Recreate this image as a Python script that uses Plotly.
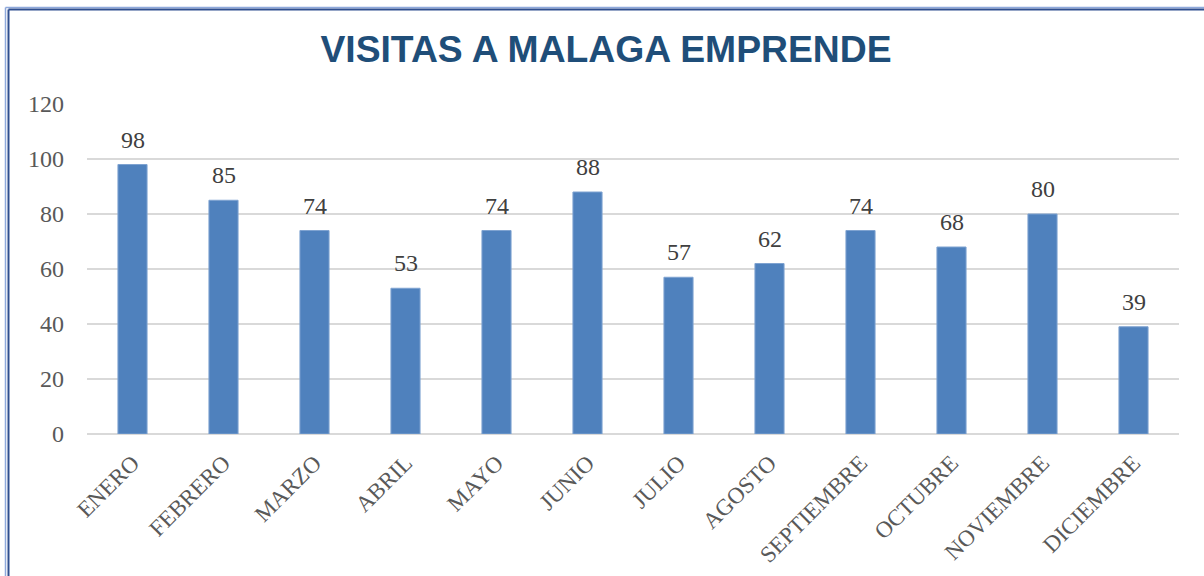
import plotly.graph_objects as go

months = ["ENERO", "FEBRERO", "MARZO", "ABRIL", "MAYO", "JUNIO", "JULIO",
          "AGOSTO", "SEPTIEMBRE", "OCTUBRE", "NOVIEMBRE", "DICIEMBRE"]
visits = [98, 85, 74, 53, 74, 88, 57, 62, 74, 68, 80, 39]
y_ticks = [0, 20, 40, 60, 80, 100, 120]

W, H = 1204, 576
L, R, T, B = 87, 25, 104, 142
pw, ph = W - L - R, H - T - B

SERIF = "Liberation Serif, DejaVu Serif, serif"

def px_x(px):
    return (px - L) / pw

def px_y(py):
    return (H - B - py) / ph

fig = go.Figure()
fig.add_trace(go.Bar(
    x=months, y=visits,
    marker=dict(color="#4F81BD", line=dict(color="#7FA3D1", width=1)),
    width=0.32,
    hoverinfo="x+y",
))

for m, v in zip(months, visits):
    fig.add_annotation(x=m, y=v, text=str(v), showarrow=False,
                       yanchor="bottom", yshift=10,
                       font=dict(family=SERIF, size=24, color="#404040"))

shapes = []
shapes.append(dict(type="line", xref="paper", yref="paper",
                   x0=px_x(5.5), x1=px_x(5.5), y0=px_y(7.5), y1=px_y(H + 5),
                   line=dict(color="#8EA9DB", width=1.5)))
shapes.append(dict(type="line", xref="paper", yref="paper",
                   x0=px_x(5.5), x1=px_x(W + 5), y0=px_y(7.5), y1=px_y(7.5),
                   line=dict(color="#8EA9DB", width=1.5)))
shapes.append(dict(type="line", xref="paper", yref="paper",
                   x0=px_x(8.5), x1=px_x(8.5), y0=px_y(9.5), y1=px_y(H + 5),
                   line=dict(color="#2F4F8F", width=2)))
shapes.append(dict(type="line", xref="paper", yref="paper",
                   x0=px_x(8.5), x1=px_x(W + 5), y0=px_y(9.5), y1=px_y(9.5),
                   line=dict(color="#2F4F8F", width=2)))

fig.update_layout(
    width=W, height=H,
    margin=dict(l=L, r=R, t=T, b=B, autoexpand=False),
    paper_bgcolor="white", plot_bgcolor="white",
    showlegend=False,
    title=dict(text="<b>VISITAS A MALAGA EMPRENDE</b>", x=606 / W, xref="container",
               xanchor="center", y=1 - 49 / H, yanchor="middle",
               font=dict(family="Liberation Sans, Arial, sans-serif", size=37.3, color="#1F4E79")),
    shapes=shapes,
    xaxis=dict(tickangle=-45, showgrid=False, showline=False, ticks="",
               ticklabelstandoff=10, automargin=False,
               tickfont=dict(family=SERIF, size=23, color="#595959")),
    yaxis=dict(range=[0, 120], tickvals=y_ticks, showgrid=True, gridcolor="#D9D9D9", gridwidth=1.5,
               zeroline=True, zerolinecolor="#D9D9D9", zerolinewidth=2,
               showline=False, ticks="", ticklabelstandoff=22, automargin=False,
               tickfont=dict(family=SERIF, size=24, color="#595959")),
)

fig.write_html("out.html", config={"displayModeBar": False},
               post_script="document.body.style.margin='0';document.body.style.overflow='hidden';")
